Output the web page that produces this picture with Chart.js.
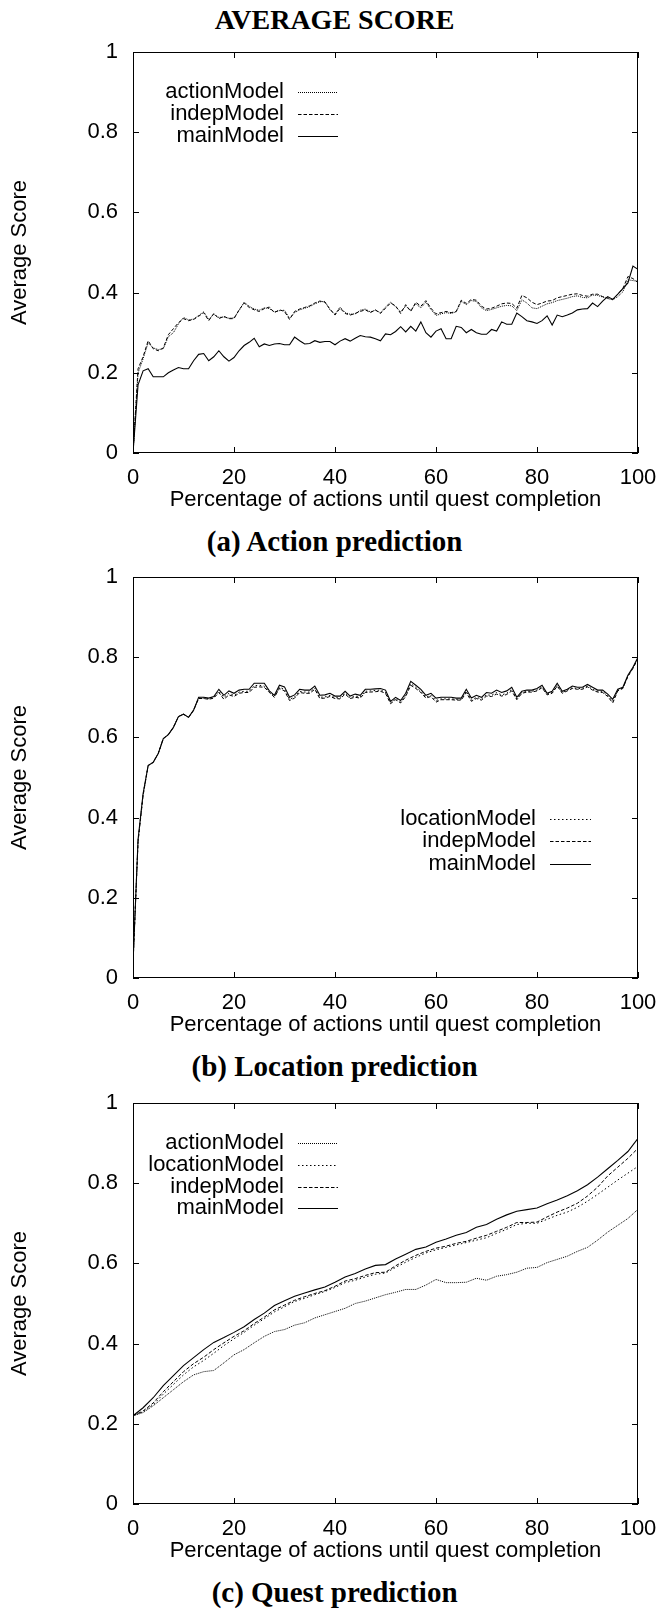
<!DOCTYPE html>
<html>
<head>
<meta charset="utf-8">
<script src="https://cdn.jsdelivr.net/npm/chart.js@4.4.1/dist/chart.umd.min.js"></script>
<style>
  html, body { margin: 0; padding: 0; background: #fff; }
  body { width: 658px; height: 1613px; position: relative; overflow: hidden; }
  canvas { position: absolute; left: 0; }
  .cap {
    position: absolute; left: 334.6px; transform: translateX(-50%);
    white-space: nowrap; color: #000; font-weight: bold;
    font-family: "Liberation Serif", "Times New Roman", serif;
  }
</style>
</head>
<body>
<div class="cap" style="top:5.5px;font-size:28px;line-height:28px">AVERAGE SCORE</div>
<canvas id="chartA" width="658" height="481" style="top:32px"></canvas>
<div class="cap" style="top:527px;font-size:29px;line-height:29px">(a) Action prediction</div>
<canvas id="chartB" width="658" height="481" style="top:557px"></canvas>
<div class="cap" style="top:1052px;font-size:29px;line-height:29px">(b) Location prediction</div>
<canvas id="chartC" width="658" height="481" style="top:1083px"></canvas>
<div class="cap" style="top:1578px;font-size:29px;line-height:29px">(c) Quest prediction</div>

<script>
// x positions: percent of actions (every 1% for a/b, every 2% for c)
const xsFull = Array.from({ length: 101 }, (_, i) => i)
const xsHalf = Array.from({ length: 51 }, (_, i) => i * 2)
const xTicks = [0, 20, 40, 60, 80, 100]
const yTicks = [0, 0.2, 0.4, 0.6, 0.8, 1]

// (a) action prediction
const actionA = [0, 0.2, 0.235, 0.275, 0.262, 0.258, 0.26, 0.29, 0.3, 0.322,
  0.338, 0.332, 0.334, 0.343, 0.352, 0.333, 0.346, 0.338, 0.339, 0.336,
  0.337, 0.355, 0.376, 0.366, 0.359, 0.356, 0.362, 0.36, 0.352, 0.355,
  0.356, 0.336, 0.35, 0.357, 0.361, 0.365, 0.372, 0.377, 0.378, 0.357,
  0.346, 0.364, 0.35, 0.346, 0.347, 0.356, 0.359, 0.352, 0.356, 0.35,
  0.364, 0.376, 0.365, 0.352, 0.366, 0.356, 0.372, 0.362, 0.376, 0.358,
  0.343, 0.347, 0.35, 0.348, 0.352, 0.378, 0.37, 0.38, 0.378, 0.362,
  0.355, 0.358, 0.362, 0.366, 0.368, 0.367, 0.355, 0.382, 0.374, 0.362,
  0.36, 0.366, 0.372, 0.375, 0.38, 0.383, 0.386, 0.39, 0.392, 0.388,
  0.387, 0.394, 0.393, 0.389, 0.385, 0.382, 0.39, 0.402, 0.432, 0.43, 0.428]
const indepA = [0, 0.21, 0.24, 0.28, 0.26, 0.255, 0.262, 0.295, 0.31, 0.325,
  0.335, 0.33, 0.333, 0.341, 0.35, 0.33, 0.348, 0.335, 0.341, 0.335,
  0.335, 0.357, 0.374, 0.363, 0.357, 0.353, 0.36, 0.364, 0.35, 0.357,
  0.353, 0.333, 0.353, 0.359, 0.363, 0.367, 0.374, 0.379, 0.376, 0.359,
  0.344, 0.361, 0.348, 0.344, 0.348, 0.353, 0.357, 0.35, 0.357, 0.348,
  0.361, 0.374, 0.367, 0.348, 0.37, 0.353, 0.376, 0.366, 0.38, 0.361,
  0.347, 0.35, 0.353, 0.35, 0.353, 0.381, 0.373, 0.383, 0.381, 0.366,
  0.359, 0.361, 0.366, 0.372, 0.374, 0.373, 0.361, 0.393, 0.387, 0.376,
  0.37, 0.374, 0.379, 0.38, 0.387, 0.39, 0.393, 0.396, 0.397, 0.393,
  0.391, 0.396, 0.396, 0.39, 0.387, 0.383, 0.396, 0.41, 0.44, 0.435, 0.425]
const mainA = [0, 0.17, 0.205, 0.21, 0.19, 0.19, 0.19, 0.2, 0.207, 0.213,
  0.21, 0.21, 0.23, 0.246, 0.248, 0.23, 0.24, 0.255, 0.24, 0.229,
  0.238, 0.255, 0.268, 0.276, 0.286, 0.265, 0.272, 0.268, 0.272, 0.273,
  0.27, 0.27, 0.289, 0.28, 0.272, 0.273, 0.28, 0.276, 0.278, 0.278,
  0.27, 0.279, 0.285, 0.279, 0.286, 0.293, 0.29, 0.289, 0.285, 0.28,
  0.297, 0.295, 0.303, 0.315, 0.302, 0.316, 0.304, 0.327, 0.3, 0.289,
  0.304, 0.31, 0.285, 0.285, 0.316, 0.313, 0.3, 0.308, 0.3, 0.296,
  0.296, 0.308, 0.304, 0.327, 0.321, 0.321, 0.349, 0.34, 0.33, 0.327,
  0.323, 0.33, 0.342, 0.319, 0.344, 0.34, 0.344, 0.349, 0.357, 0.359,
  0.36, 0.374, 0.365, 0.379, 0.39, 0.383, 0.396, 0.41, 0.424, 0.466, 0.458]

// (b) location prediction
const locationB = [0.035, 0.342, 0.458, 0.53, 0.538, 0.56, 0.597, 0.607, 0.625, 0.652,
  0.658, 0.65, 0.668, 0.698, 0.698, 0.696, 0.7, 0.715, 0.7, 0.71,
  0.705, 0.713, 0.715, 0.715, 0.729, 0.73, 0.728, 0.713, 0.702, 0.725,
  0.72, 0.695, 0.701, 0.715, 0.713, 0.713, 0.723, 0.7, 0.701, 0.705,
  0.699, 0.699, 0.711, 0.699, 0.703, 0.701, 0.715, 0.716, 0.717, 0.718,
  0.713, 0.686, 0.697, 0.688, 0.705, 0.734, 0.725, 0.715, 0.7, 0.705,
  0.692, 0.696, 0.696, 0.696, 0.695, 0.695, 0.715, 0.693, 0.7, 0.696,
  0.706, 0.705, 0.712, 0.706, 0.71, 0.72, 0.696, 0.712, 0.715, 0.715,
  0.718, 0.726, 0.708, 0.712, 0.73, 0.712, 0.718, 0.724, 0.722, 0.722,
  0.728, 0.72, 0.715, 0.715, 0.704, 0.69, 0.718, 0.723, 0.753, 0.773, 0.798]
const indepB = [0.035, 0.34, 0.455, 0.53, 0.538, 0.56, 0.597, 0.607, 0.625, 0.652,
  0.658, 0.65, 0.668, 0.697, 0.697, 0.695, 0.698, 0.712, 0.695, 0.706,
  0.702, 0.71, 0.712, 0.712, 0.725, 0.726, 0.725, 0.712, 0.7, 0.722,
  0.716, 0.692, 0.698, 0.712, 0.71, 0.71, 0.72, 0.697, 0.698, 0.702,
  0.697, 0.696, 0.708, 0.697, 0.7, 0.698, 0.712, 0.713, 0.714, 0.715,
  0.71, 0.684, 0.694, 0.686, 0.702, 0.73, 0.722, 0.712, 0.698, 0.702,
  0.688, 0.694, 0.694, 0.694, 0.693, 0.693, 0.712, 0.69, 0.697, 0.693,
  0.703, 0.702, 0.708, 0.703, 0.707, 0.716, 0.694, 0.71, 0.713, 0.713,
  0.716, 0.724, 0.706, 0.71, 0.728, 0.71, 0.716, 0.722, 0.72, 0.72,
  0.726, 0.718, 0.713, 0.712, 0.702, 0.686, 0.716, 0.722, 0.752, 0.772, 0.797]
const mainB = [0.035, 0.345, 0.46, 0.53, 0.538, 0.56, 0.597, 0.607, 0.625, 0.652,
  0.658, 0.65, 0.668, 0.7, 0.7, 0.698, 0.702, 0.72, 0.705, 0.716,
  0.71, 0.718, 0.72, 0.72, 0.735, 0.735, 0.735, 0.716, 0.705, 0.73,
  0.726, 0.7, 0.706, 0.72, 0.718, 0.718, 0.728, 0.705, 0.706, 0.71,
  0.703, 0.703, 0.715, 0.703, 0.708, 0.705, 0.72, 0.72, 0.721, 0.722,
  0.718, 0.69, 0.7, 0.692, 0.71, 0.74, 0.73, 0.72, 0.705, 0.71,
  0.698, 0.7, 0.7, 0.7, 0.698, 0.698, 0.72, 0.698, 0.705, 0.7,
  0.712, 0.71, 0.718, 0.712, 0.716, 0.725, 0.7, 0.715, 0.718, 0.718,
  0.722, 0.73, 0.71, 0.715, 0.735, 0.715, 0.72, 0.728, 0.725, 0.725,
  0.732, 0.725, 0.718, 0.718, 0.708, 0.695, 0.72, 0.725, 0.755, 0.775, 0.8]

// (c) quest prediction, every 2%
const actionC = [0.22, 0.228, 0.245, 0.265, 0.285, 0.305, 0.322, 0.33, 0.333, 0.352,
  0.372, 0.385, 0.402, 0.418, 0.43, 0.435, 0.446, 0.452, 0.464, 0.472,
  0.48, 0.488, 0.5, 0.506, 0.514, 0.522, 0.528, 0.535, 0.535, 0.546,
  0.56, 0.552, 0.552, 0.553, 0.563, 0.558, 0.568, 0.572, 0.578, 0.588,
  0.59, 0.602, 0.61, 0.618, 0.63, 0.64, 0.658, 0.678, 0.695, 0.712, 0.735]
const locationC = [0.22, 0.23, 0.248, 0.274, 0.298, 0.322, 0.342, 0.358, 0.376, 0.395,
  0.412, 0.428, 0.446, 0.462, 0.479, 0.492, 0.505, 0.513, 0.522, 0.53,
  0.54, 0.552, 0.558, 0.566, 0.573, 0.576, 0.59, 0.603, 0.615, 0.626,
  0.634, 0.64, 0.646, 0.652, 0.658, 0.664, 0.675, 0.685, 0.697, 0.7,
  0.7, 0.71, 0.72, 0.728, 0.74, 0.755, 0.772, 0.79, 0.808, 0.825, 0.842]
const indepC = [0.22, 0.232, 0.252, 0.28, 0.305, 0.33, 0.35, 0.366, 0.385, 0.402,
  0.418, 0.432, 0.45, 0.466, 0.484, 0.496, 0.508, 0.517, 0.525, 0.532,
  0.543, 0.556, 0.562, 0.57, 0.577, 0.578, 0.594, 0.608, 0.62, 0.63,
  0.638, 0.643, 0.65, 0.655, 0.663, 0.67, 0.68, 0.69, 0.702, 0.702,
  0.703, 0.716, 0.728, 0.738, 0.75, 0.768, 0.79, 0.818, 0.84, 0.862, 0.887]
const mainC = [0.22, 0.24, 0.265, 0.295, 0.32, 0.345, 0.365, 0.385, 0.403, 0.415,
  0.428, 0.442, 0.46, 0.476, 0.495, 0.507, 0.518, 0.526, 0.534, 0.541,
  0.553, 0.566, 0.575, 0.586, 0.595, 0.597, 0.611, 0.623, 0.635, 0.641,
  0.653, 0.661, 0.67, 0.677, 0.69, 0.697, 0.71, 0.721, 0.73, 0.734,
  0.738, 0.749, 0.758, 0.769, 0.781, 0.796, 0.815, 0.836, 0.857, 0.879, 0.912]

Chart.defaults.font.family = '"Liberation Sans", Arial, Helvetica, sans-serif'
Chart.defaults.font.size = 22
Chart.defaults.color = '#000'

const lineStyles = {
  actionModel: { dash: [1, 1], width: 1 },
  locationModel: { dash: [1.5, 2.5], width: 1 },
  indepModel: { dash: [3.5, 2], width: 1 },
  mainModel: { dash: [], width: 1.1 }
}

// frame with inward mirror ticks + gnuplot style key
const framePlugin = {
  id: 'frame',
  afterDatasetsDraw(chart, args, opts) {
    const { ctx, chartArea: a, scales: { x, y } } = chart
    ctx.save()
    ctx.strokeStyle = '#000'
    ctx.lineWidth = 1
    ctx.setLineDash([])
    ctx.strokeRect(a.left + 0.5, a.top + 0.5, a.right - a.left - 1, a.bottom - a.top - 1)
    ctx.beginPath()
    xTicks.forEach(v => {
      const px = Math.round(x.getPixelForValue(v)) + 0.5
      ctx.moveTo(px, a.bottom); ctx.lineTo(px, a.bottom - 6)
      ctx.moveTo(px, a.top); ctx.lineTo(px, a.top + 6)
    })
    yTicks.forEach(v => {
      const py = Math.round(y.getPixelForValue(v)) + 0.5
      ctx.moveTo(a.left, py); ctx.lineTo(a.left + 6, py)
      ctx.moveTo(a.right, py); ctx.lineTo(a.right - 6, py)
    })
    ctx.stroke()

    // key
    ctx.font = '22px "Liberation Sans", Arial, sans-serif'
    ctx.textAlign = 'right'
    ctx.textBaseline = 'middle'
    ctx.fillStyle = '#000'
    chart.data.datasets.forEach((ds, i) => {
      const cy = a.top + opts.rowTop + i * opts.rowGap
      ctx.fillText(ds.label, a.left + opts.textRight, cy)
      ctx.beginPath()
      ctx.lineWidth = ds.borderWidth
      ctx.setLineDash(ds.borderDash)
      ctx.moveTo(a.left + opts.sampleLeft, Math.round(cy) + 0.5)
      ctx.lineTo(a.left + opts.sampleRight, Math.round(cy) + 0.5)
      ctx.stroke()
    })
    ctx.restore()
  }
}

function makeChart(id, xs, series, key) {
  const datasets = series.map(s => ({
    label: s.label,
    data: xs.map((x, i) => ({ x: x, y: s.values[i] })),
    borderColor: '#000',
    borderWidth: lineStyles[s.label].width,
    borderDash: lineStyles[s.label].dash,
    pointRadius: 0,
    tension: 0,
    fill: false
  }))
  return new Chart(document.getElementById(id), {
    type: 'line',
    data: { datasets },
    options: {
      responsive: false,
      animation: false,
      devicePixelRatio: 1,
      layout: { padding: { left: 0, right: 20, top: 20, bottom: 0 } },
      plugins: { legend: { display: false }, tooltip: { enabled: false }, frame: key },
      scales: {
        x: {
          type: 'linear', min: 0, max: 100,
          ticks: { stepSize: 20, padding: 12, maxRotation: 0 },
          grid: { display: false, drawTicks: false },
          border: { display: false },
          title: {
            display: true, text: 'Percentage of actions until quest completion',
            padding: { top: 0, bottom: 0 }
          },
          afterFit: s => { s.height = 60; s.paddingLeft = 0; s.paddingRight = 0 }
        },
        y: {
          min: 0, max: 1,
          ticks: { stepSize: 0.2, padding: 15, callback: v => String(+v.toFixed(1)) },
          grid: { display: false, drawTicks: false },
          border: { display: false },
          title: { display: true, text: 'Average Score', padding: { top: 7, bottom: 0 } },
          afterFit: s => { s.width = 133; s.paddingTop = 0; s.paddingBottom = 0 }
        }
      }
    },
    plugins: [framePlugin]
  })
}

const keyTopLeft = { textRight: 151, sampleLeft: 165, sampleRight: 205, rowTop: 40, rowGap: 21.8 }
const keyMiddle = { textRight: 403, sampleLeft: 417, sampleRight: 458, rowTop: 241.6, rowGap: 22.5 }

makeChart('chartA', xsFull, [
  { label: 'actionModel', values: actionA },
  { label: 'indepModel', values: indepA },
  { label: 'mainModel', values: mainA }
], keyTopLeft)

makeChart('chartB', xsFull, [
  { label: 'locationModel', values: locationB },
  { label: 'indepModel', values: indepB },
  { label: 'mainModel', values: mainB }
], keyMiddle)

makeChart('chartC', xsHalf, [
  { label: 'actionModel', values: actionC },
  { label: 'locationModel', values: locationC },
  { label: 'indepModel', values: indepC },
  { label: 'mainModel', values: mainC }
], keyTopLeft)
</script>
</body>
</html>
